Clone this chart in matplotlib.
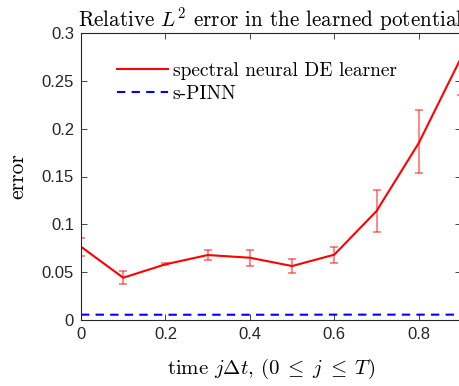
import numpy as np
import matplotlib
matplotlib.use('Agg')
import matplotlib.pyplot as plt

# data
t = [0, 0.1, 0.2, 0.3, 0.4, 0.5, 0.6, 0.7, 0.8, 0.9]
err_sndl = [0.0766, 0.0442, 0.0582, 0.0679, 0.0651, 0.0564, 0.0683, 0.1139, 0.185, 0.274]
err_lo = [0.0100, 0.0069, 0.0010, 0.0052, 0.0087, 0.0076, 0.0091, 0.0219, 0.0314, 0.039]
err_hi = [0.0094, 0.0067, 0.0010, 0.0056, 0.0084, 0.0077, 0.0083, 0.0223, 0.034, 0.04]
err_spinn = [0.0056, 0.0055, 0.0055, 0.0055, 0.0055, 0.0055, 0.0056, 0.0056, 0.0056, 0.0056]

xticks = [0, 0.2, 0.4, 0.6, 0.8]
yticks = [0, 0.05, 0.1, 0.15, 0.2, 0.25, 0.3]
yticklabels = ['0', '0.05', '0.1', '0.15', '0.2', '0.25', '0.3']

plt.rcParams['mathtext.fontset'] = 'cm'
serif = 'cmr10'

fig = plt.figure(figsize=(4.59, 3.86), dpi=100)
ax = fig.add_axes([81/459, 1 - 320/386, 380/459, 287/386])

ax.errorbar(t, err_sndl, yerr=[err_lo, err_hi], fmt='none', ecolor='red',
            alpha=0.55, elinewidth=1.2, capsize=3, capthick=1.2)
ax.plot(t, err_sndl, color='red', lw=1.5, label='spectral neural DE learner')
ax.plot(t, err_spinn, color='blue', lw=1.5, ls=(0, (4, 3)), label='s-PINN')

ax.set_xlim(0, 0.9)
ax.set_ylim(0, 0.3)
ax.set_xticks(xticks)
ax.set_xticklabels(['0', '0.2', '0.4', '0.6', '0.8'])
ax.set_yticks(yticks)
ax.set_yticklabels(yticklabels)
ax.tick_params(direction='in', top=True, right=True, length=4, width=0.6,
               labelsize=12, colors='#262626', pad=5)
for lab in ax.get_xticklabels() + ax.get_yticklabels():
    lab.set_family('Liberation Sans')
for s in ax.spines.values():
    s.set_linewidth(0.8)
    s.set_color('#262626')

ax.set_title(r'Relative $L^2$ error in the learned potential', family=serif,
             fontsize=15.2, pad=5)
ax.set_xlabel(r'time $j\Delta t$, $(0\;\leq\; j\;\leq\; T)$', family=serif,
              fontsize=15, labelpad=11)
ax.set_ylabel('error', family=serif, fontsize=15.5, labelpad=10)

leg = ax.legend(loc='upper left', bbox_to_anchor=(0.075, 0.925), frameon=False,
                prop={'family': serif, 'size': 14}, handlelength=2.6,
                handletextpad=0.25, labelspacing=0.25, borderaxespad=0)

fig.savefig('out.png', dpi=100)
